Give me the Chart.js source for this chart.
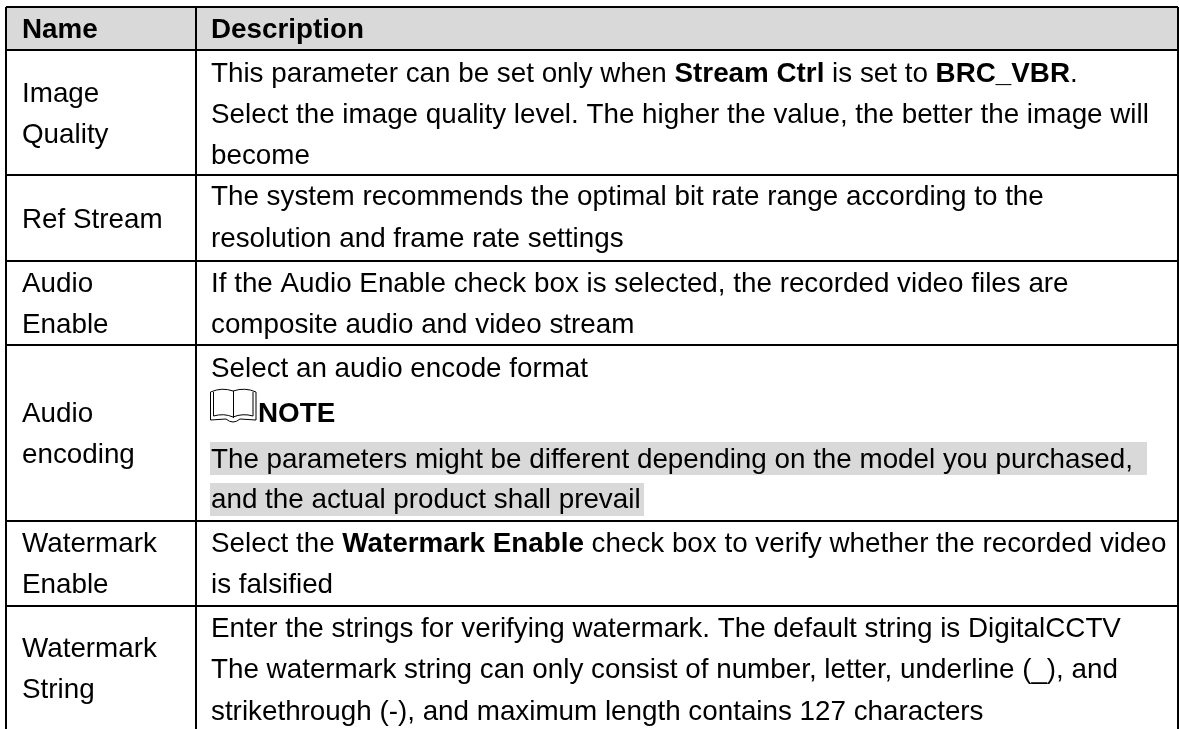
<!DOCTYPE html>
<html>
<head>
<meta charset="utf-8">
<script src="https://cdn.jsdelivr.net/npm/chart.js@4/dist/chart.umd.min.js"></script>
<style>
  html, body { margin: 0; padding: 0; background: #fff; overflow: hidden; }
  #wrap { position: relative; width: 1179px; height: 729px; }
</style>
</head>
<body>
<div id="wrap"><canvas id="tableChart"></canvas></div>
<script>
// table structure
const colEdges = [6, 196, 1178];
const rowEdges = [7, 50, 175, 261, 345, 521, 606, 729];
const headerBand = [7, 50];
const noteBands = [[210, 1147, 442, 475], [210, 644, 483, 516]];

// text: [x, baseline, runs], a run starting with * is bold
const headerCells = [
  [22, 38, ['*Name']],
  [211, 38, ['*Description']]
];
const nameCells = [
  [22, 102, ['Image']],
  [22, 143, ['Quality']],
  [22, 228, ['Ref Stream']],
  [22, 292, ['Audio']],
  [22, 333, ['Enable']],
  [22, 422, ['Audio']],
  [22, 463, ['encoding']],
  [22, 552, ['Watermark']],
  [22, 593, ['Enable']],
  [22, 657, ['Watermark']],
  [22, 698, ['String']]
];
const descCells = [
  [211, 82, ['This parameter can be set only when ', '*Stream Ctrl', ' is set to ', '*BRC_VBR', '.']],
  [211, 123, ['Select the image quality level. The higher the value, the better the image will']],
  [211, 164, ['become']],
  [211, 205, ['The system recommends the optimal bit rate range according to the']],
  [211, 247, ['resolution and frame rate settings']],
  [211, 292, ['If the Audio Enable check box is selected, the recorded video files are']],
  [211, 333, ['composite audio and video stream']],
  [211, 377, ['Select an audio encode format']],
  [258, 422, ['*NOTE']],
  [211, 468, ['The parameters might be different depending on the model you purchased,']],
  [211, 508, ['and the actual product shall prevail']],
  [211, 552, ['Select the ', '*Watermark Enable', ' check box to verify whether the recorded video']],
  [211, 593, ['is falsified']],
  [211, 637, ['Enter the strings for verifying watermark. The default string is DigitalCCTV']],
  [211, 678, ['The watermark string can only consist of number, letter, underline (_), and']],
  [211, 720, ['strikethrough (-), and maximum length contains 127 characters']]
];

const FONT_SIZE = 27.8;
const FONT_FAMILY = '"Liberation Sans", Arial, sans-serif';

function band(x0, x1, y0, y1, color) {
  return {
    type: 'line',
    data: [{ x: x0, y: y0 }, { x: x1, y: y0 }],
    borderWidth: 0,
    pointRadius: 0,
    backgroundColor: color,
    fill: { target: { value: y1 } },
    order: 2
  };
}

function rule(x0, y0, x1, y1) {
  return {
    type: 'line',
    data: [{ x: x0, y: y0 }, { x: x1, y: y1 }],
    borderColor: '#000',
    borderWidth: 2,
    pointRadius: 0,
    fill: false,
    order: 1
  };
}

const datasets = [];
datasets.push(band(colEdges[0], colEdges[2], headerBand[0], headerBand[1], '#d9d9d9'));
noteBands.forEach(b => datasets.push(band(b[0], b[1], b[2], b[3], '#d9d9d9')));
rowEdges.slice(0, -1).forEach(y => datasets.push(rule(colEdges[0], y, colEdges[2], y)));
colEdges.forEach(x => datasets.push(rule(x, rowEdges[0], x, rowEdges[rowEdges.length - 1])));

// writes the cell text through the scales, bold runs one after another
const tableText = {
  id: 'tableText',
  afterDatasetsDraw(chart) {
    const ctx = chart.ctx;
    const sx = chart.scales.x;
    const sy = chart.scales.y;
    ctx.save();
    ctx.fillStyle = '#000';
    ctx.textBaseline = 'alphabetic';
    ctx.textAlign = 'left';
    headerCells.concat(nameCells, descCells).forEach(cell => {
      let px = sx.getPixelForValue(cell[0]);
      const py = sy.getPixelForValue(cell[1]);
      cell[2].forEach(run => {
        const bold = run[0] === '*';
        const txt = bold ? run.slice(1) : run;
        ctx.font = (bold ? 'bold ' : '') + FONT_SIZE + 'px ' + FONT_FAMILY;
        ctx.fillText(txt, px, py);
        px += ctx.measureText(txt).width;
      });
    });
    drawBook(ctx, sx.getPixelForValue(210), sy.getPixelForValue(388));
    ctx.restore();
  }
};

// the open book icon in front of NOTE
function drawBook(ctx, x, y) {
  ctx.strokeStyle = '#000';
  ctx.lineWidth = 1;
  ctx.beginPath();
  ctx.moveTo(0.5 + x, y + 32);
  ctx.lineTo(0.5 + x, y + 4);
  ctx.quadraticCurveTo(12 + x, y - 1, 23 + x, y + 3);
  ctx.quadraticCurveTo(35 + x, y - 1, 46 + x, y + 4);
  ctx.lineTo(46 + x, y + 32);
  ctx.moveTo(23.5 + x, y + 3);
  ctx.lineTo(23.5 + x, y + 30);
  ctx.moveTo(3.5 + x, y + 4);
  ctx.lineTo(3.5 + x, y + 28);
  ctx.quadraticCurveTo(14 + x, y + 25, 23 + x, y + 29);
  ctx.quadraticCurveTo(33 + x, y + 25, 43 + x, y + 28);
  ctx.lineTo(43 + x, y + 4);
  ctx.moveTo(0.5 + x, y + 32);
  ctx.lineTo(16 + x, y + 31);
  ctx.quadraticCurveTo(23 + x, y + 37, 30 + x, y + 31);
  ctx.lineTo(46 + x, y + 32);
  ctx.stroke();
}

new Chart(document.getElementById('tableChart'), {
  type: 'line',
  data: { datasets: datasets },
  options: {
    responsive: true,
    maintainAspectRatio: false,
    animation: false,
    parsing: false,
    normalized: true,
    layout: { padding: 0 },
    plugins: { legend: { display: false }, tooltip: { enabled: false } },
    scales: {
      x: { type: 'linear', min: 0, max: 1179, display: false },
      y: { type: 'linear', min: 0, max: 729, reverse: true, display: false }
    }
  },
  plugins: [tableText]
});
</script>
</body>
</html>
